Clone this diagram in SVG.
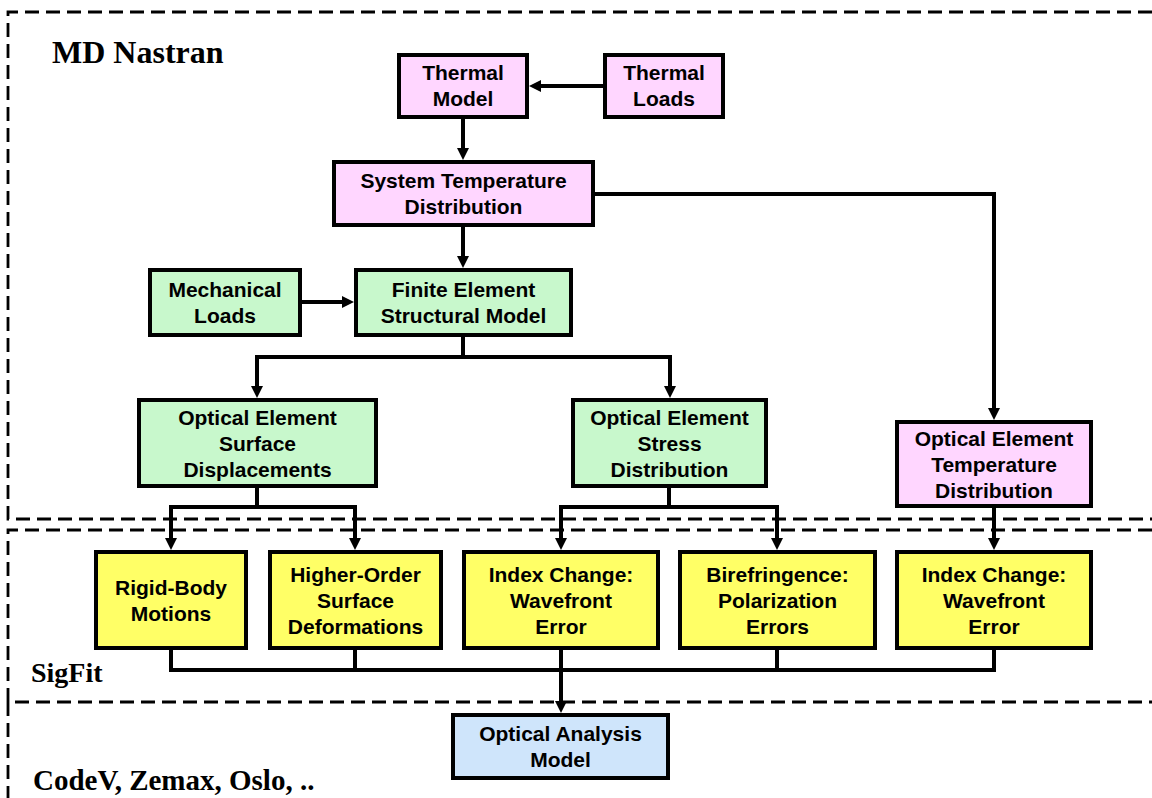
<svg xmlns="http://www.w3.org/2000/svg" width="1152" height="798" viewBox="0 0 1152 798">
<style>
  .frame { fill: none; stroke: #000; stroke-width: 2.8; stroke-dasharray: 14 7; }
  .box { stroke: #000; stroke-width: 4; }
  .pink { fill: #FFD6FF; }
  .green { fill: #C8F8CC; }
  .yellow { fill: #FFFF66; }
  .blue { fill: #CFE5FB; }
  .t { font-family: "Liberation Sans", Arial, sans-serif; font-weight: bold; font-size: 21px; fill: #000; text-anchor: middle; }
  .title { font-family: "Liberation Serif", "Times New Roman", serif; font-weight: bold; fill: #000; }
  .conn { fill: none; stroke: #000; stroke-width: 4; stroke-linejoin: miter; }
</style>
<defs>
  <marker id="arr" markerUnits="userSpaceOnUse" markerWidth="12" markerHeight="12" viewBox="0 0 12 12" refX="2" refY="6" orient="auto">
    <path d="M0,0 L12,6 L0,12 z" fill="#000"/>
  </marker>
</defs>
<rect width="1152" height="798" fill="#fff"/>

<g id="frames">
  <path class="frame" d="M1152,12 H8 V519 H1152"/>
  <path class="frame" d="M1152,530 H8 V702 H1152"/>
  <path class="frame" d="M8,702 V798"/>
  <text class="title" x="52" y="63" font-size="32">MD Nastran</text>
  <text class="title" x="31" y="682" font-size="28">SigFit</text>
  <text class="title" x="33" y="790" font-size="29">CodeV, Zemax, Oslo, ..</text>
</g>

<g id="connectors">
  <path class="conn" d="M603,86 H539" marker-end="url(#arr)"/>
  <path class="conn" d="M463,119 V150" marker-end="url(#arr)"/>
  <path class="conn" d="M463,227 V258" marker-end="url(#arr)"/>
  <path class="conn" d="M302,302 H344" marker-end="url(#arr)"/>
  <path class="conn" d="M463,337 V357 H257 V388" marker-end="url(#arr)"/>
  <path class="conn" d="M463,357 H670 V388" marker-end="url(#arr)"/>
  <path class="conn" d="M595,194 H994 V410" marker-end="url(#arr)"/>
  <path class="conn" d="M257,488 V507 H171 V540" marker-end="url(#arr)"/>
  <path class="conn" d="M257,507 H355 V540" marker-end="url(#arr)"/>
  <path class="conn" d="M669,488 V507 H561 V540" marker-end="url(#arr)"/>
  <path class="conn" d="M669,507 H777 V540" marker-end="url(#arr)"/>
  <path class="conn" d="M994,508 V540" marker-end="url(#arr)"/>
  <path class="conn" d="M171,650 V670 H994 V650"/>
  <path class="conn" d="M355,650 V670"/>
  <path class="conn" d="M777,650 V670"/>
  <path class="conn" d="M561,650 V703" marker-end="url(#arr)"/>
</g>

<g id="thermal-model">
  <rect class="box pink" x="399" y="55" width="128" height="62"/>
  <text class="t" x="463" y="80">Thermal</text>
  <text class="t" x="463" y="106">Model</text>
</g>
<g id="thermal-loads">
  <rect class="box pink" x="605" y="55" width="118" height="62"/>
  <text class="t" x="664" y="80">Thermal</text>
  <text class="t" x="664" y="106">Loads</text>
</g>
<g id="system-temperature">
  <rect class="box pink" x="334" y="162" width="259" height="63"/>
  <text class="t" x="463.5" y="188">System Temperature</text>
  <text class="t" x="463.5" y="214">Distribution</text>
</g>
<g id="mechanical-loads">
  <rect class="box green" x="150" y="270" width="150" height="65"/>
  <text class="t" x="225" y="297">Mechanical</text>
  <text class="t" x="225" y="323">Loads</text>
</g>
<g id="finite-element">
  <rect class="box green" x="356" y="270" width="215" height="65"/>
  <text class="t" x="463.5" y="297">Finite Element</text>
  <text class="t" x="463.5" y="323">Structural Model</text>
</g>
<g id="oe-surface">
  <rect class="box green" x="139" y="400" width="237" height="86"/>
  <text class="t" x="257.5" y="425">Optical Element</text>
  <text class="t" x="257.5" y="451">Surface</text>
  <text class="t" x="257.5" y="477">Displacements</text>
</g>
<g id="oe-stress">
  <rect class="box green" x="573" y="400" width="193" height="86"/>
  <text class="t" x="669.5" y="425">Optical Element</text>
  <text class="t" x="669.5" y="451">Stress</text>
  <text class="t" x="669.5" y="477">Distribution</text>
</g>
<g id="oe-temperature">
  <rect class="box pink" x="897" y="422" width="194" height="84"/>
  <text class="t" x="994" y="446">Optical Element</text>
  <text class="t" x="994" y="472">Temperature</text>
  <text class="t" x="994" y="498">Distribution</text>
</g>
<g id="rigid-body">
  <rect class="box yellow" x="96" y="552" width="150" height="96"/>
  <text class="t" x="171" y="595">Rigid-Body</text>
  <text class="t" x="171" y="621">Motions</text>
</g>
<g id="higher-order">
  <rect class="box yellow" x="270" y="552" width="171" height="96"/>
  <text class="t" x="355.5" y="582">Higher-Order</text>
  <text class="t" x="355.5" y="608">Surface</text>
  <text class="t" x="355.5" y="634">Deformations</text>
</g>
<g id="index-change-1">
  <rect class="box yellow" x="464" y="552" width="194" height="96"/>
  <text class="t" x="561" y="582">Index Change:</text>
  <text class="t" x="561" y="608">Wavefront</text>
  <text class="t" x="561" y="634">Error</text>
</g>
<g id="birefringence">
  <rect class="box yellow" x="680" y="552" width="195" height="96"/>
  <text class="t" x="777.5" y="582">Birefringence:</text>
  <text class="t" x="777.5" y="608">Polarization</text>
  <text class="t" x="777.5" y="634">Errors</text>
</g>
<g id="index-change-2">
  <rect class="box yellow" x="897" y="552" width="194" height="96"/>
  <text class="t" x="994" y="582">Index Change:</text>
  <text class="t" x="994" y="608">Wavefront</text>
  <text class="t" x="994" y="634">Error</text>
</g>
<g id="optical-analysis">
  <rect class="box blue" x="453" y="715" width="215" height="63"/>
  <text class="t" x="560.5" y="741">Optical Analysis</text>
  <text class="t" x="560.5" y="767">Model</text>
</g>
</svg>
